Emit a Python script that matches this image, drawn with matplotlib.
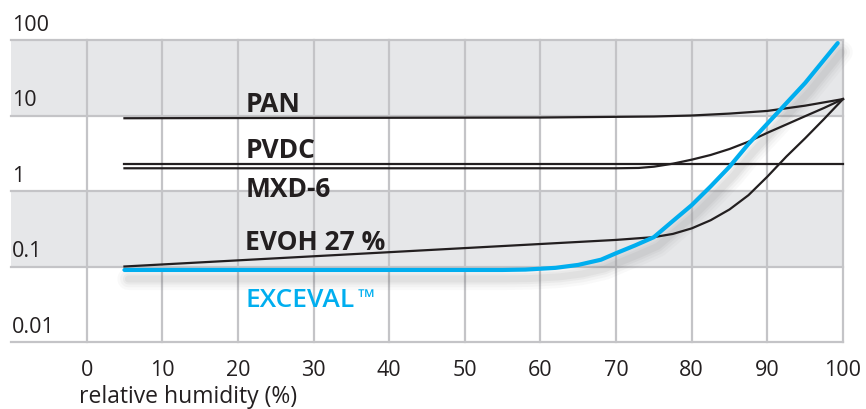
import matplotlib
matplotlib.use("Agg")
import matplotlib.pyplot as plt
import matplotlib.transforms as mtransforms

# ---- data ----
x_ticks = [0, 10, 20, 30, 40, 50, 60, 70, 80, 90, 100]
y_ticks = [0.01, 0.1, 1, 10, 100]
y_tick_labels = ["0.01", "0.1", "1", "10", "100"]

pan_x = [5, 60, 75, 80, 85, 90, 95, 100]
pan_y = [9.2, 9.4, 9.7, 10.0, 10.6, 11.5, 13.5, 16.5]

pvdc_x = [5, 70, 73, 75, 77.5, 80, 82.5, 85, 87.5, 90, 92.5, 95, 97.5, 100]
pvdc_y = [2.0, 2.0, 2.02, 2.1, 2.3, 2.6, 3.0, 3.6, 4.5, 5.9, 7.6, 9.8, 12.6, 16.5]

mxd_x = [5, 100]
mxd_y = [2.25, 2.25]

evoh_x = [5, 70, 75, 77.5, 80, 82.5, 85, 87.5, 90, 92.5, 95, 97.5, 100]
evoh_y = [0.1, 0.225, 0.245, 0.27, 0.32, 0.41, 0.57, 0.88, 1.55, 2.85, 5.0, 9.0, 16.5]

exc_x = [5, 55, 58, 62, 65, 68, 70, 72.5, 75, 77.5, 80, 82.5, 85, 87.5, 90, 95, 99.3]
exc_y = [0.09, 0.09, 0.091, 0.096, 0.105, 0.123, 0.15, 0.19, 0.245, 0.4, 0.65,
         1.15, 2.1, 4.2, 7.8, 27, 91]

labels = ["PAN", "PVDC", "MXD-6", "EVOH 27 %"]
label_y = [11.5, 2.8, 0.87, 0.17]
label_x = 21
exc_label = "EXCEVAL"
exc_label_y = 0.030

xlabel = "relative humidity (%)"

# ---- style ----
FONT = ["Open Sans", "DejaVu Sans"]
BLACK = "#231F20"
BLUE = "#00AEEF"
GRID = "#C4C4C7"
BAND = "#E6E7E9"

fig = plt.figure(figsize=(8.66, 4.10), dpi=100)
ax = fig.add_axes([11 / 866, 1 - 343 / 410, (843 - 11) / 866, (343 - 41) / 410])
ax.set_yscale("log")
ax.set_xlim(-10, 100)
ax.set_ylim(0.01, 100)

for s in ax.spines.values():
    s.set_visible(False)

# bands
ax.axhspan(10, 100, color=BAND, zorder=0, lw=0)
ax.axhspan(0.1, 1, color=BAND, zorder=0, lw=0)

# grid
for yv in y_ticks:
    ax.axhline(yv, color=GRID, lw=1.6, zorder=1, clip_on=False)
for xv in x_ticks:
    ax.axvline(xv, color=GRID, lw=1.6, zorder=1, clip_on=False)

# shadow under blue curve
for lw, a in [(16, 0.03), (12, 0.04), (8, 0.05), (5, 0.06)]:
    tr = mtransforms.offset_copy(ax.transData, fig=fig, x=4, y=-9, units="dots")
    ax.plot(exc_x, exc_y, color="#555555", lw=lw, alpha=a, transform=tr,
            solid_capstyle="round", zorder=2, clip_on=False)

# series
for xs, ys in [(pan_x, pan_y), (pvdc_x, pvdc_y), (mxd_x, mxd_y), (evoh_x, evoh_y)]:
    ax.plot(xs, ys, color=BLACK, lw=1.6, zorder=3, clip_on=False,
            solid_joinstyle="round")
ax.plot(exc_x, exc_y, color=BLUE, lw=3.0, zorder=4, clip_on=False,
        solid_capstyle="round", solid_joinstyle="round")

# labels
for lab, yv in zip(labels, label_y):
    ax.text(label_x, yv, lab, fontsize=19, fontweight="bold", color=BLACK,
            family=FONT, va="baseline", ha="left", zorder=5)
t = ax.text(label_x, exc_label_y, exc_label, fontsize=19, fontweight="semibold",
            color=BLUE, family=FONT, va="baseline", ha="left", zorder=5)
ax.annotate("\u2122", xy=(1, 1), xycoords=t, xytext=(3, -1), textcoords="offset pixels",
            fontsize=16, color=BLUE, family=FONT, va="top", ha="left")

# y tick labels (above the gridlines, at the left edge)
ax.set_yticks([])
ax.minorticks_off()
ax.tick_params(axis="y", which="both", left=False, labelleft=False)
blend = mtransforms.blended_transform_factory(ax.transAxes, ax.transData)
for yv, lab in zip(y_ticks, y_tick_labels):
    ax.annotate(lab, xy=(0, yv), xycoords=blend, xytext=(1, 10),
                textcoords="offset pixels", fontsize=15.5, color=BLACK,
                family=FONT, va="baseline", ha="left", annotation_clip=False)

# x tick labels
ax.set_xticks(x_ticks)
ax.set_xticklabels([str(v) for v in x_ticks], fontsize=15.5, color=BLACK, family=FONT)
ax.tick_params(axis="x", length=0, pad=12)

fig.text(79 / 866, 1 - 403 / 410, xlabel, fontsize=16.5, color=BLACK, family=FONT,
         va="baseline", ha="left")

fig.savefig("out.png", dpi=100)
